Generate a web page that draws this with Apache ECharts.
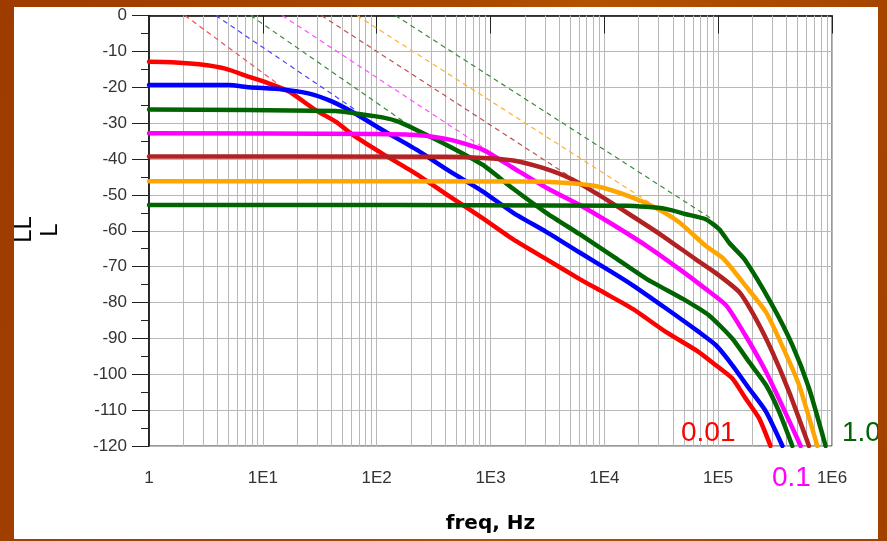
<!DOCTYPE html>
<html>
<head>
<meta charset="utf-8">
<script src="https://cdn.jsdelivr.net/npm/echarts@6/dist/echarts.min.js"></script>
<style>
  html, body { margin: 0; padding: 0; width: 887px; height: 541px; overflow: hidden;
    background: linear-gradient(100deg, #9e3c00 0%, #a94600 45%, #b35200 60%, #a24000 100%); }
  #chart { position: absolute; left: 14px; top: 7px; width: 864px; height: 532px; background: #ffffff; }
</style>
</head>
<body>
<div id="chart"></div>
<script>
// ---- tick labels ----
const xTickLabels = ['1', '1E1', '1E2', '1E3', '1E4', '1E5', '1E6'];

// ---- solid curves: frequency (Hz) and level (dB) ----
const redFreq = [1, 1.585, 2.754, 4.677, 7.586, 11.22, 16.98, 28.84, 43.65, 64.57, 112.2, 223.9, 436.5, 851.1, 1585, 3090, 6026, 10000, 17780, 34670, 67610, 95500, 133400, 173800, 229100, 288400];
const redDb   = [-12.9, -13.0, -13.6, -14.8, -17.1, -18.9, -21.2, -26.3, -29.6, -33.7, -38.5, -44.2, -50.4, -56.5, -62.4, -67.9, -73.4, -77.3, -81.8, -88.2, -93.8, -97.5, -101.2, -106.7, -112.3, -120];

const blueFreq = [1, 5.01, 7.586, 14.79, 25.12, 40.74, 64.57, 112.2, 223.9, 436.5, 851.1, 1585, 3090, 6026, 11750, 17780, 34670, 67610, 95500, 133400, 186200, 263000, 367300];
const blueDb   = [-19.4, -19.4, -20.0, -20.6, -21.7, -24.0, -27.3, -31.9, -37.4, -43.4, -49.0, -55.0, -60.3, -66.0, -71.6, -75.2, -81.6, -88.2, -91.9, -97.5, -103.9, -110.4, -120];

const green1Freq = [1, 43.65, 64.57, 112.2, 154.9, 223.9, 436.5, 851.1, 1585, 3090, 6026, 11750, 23440, 48980, 83180, 133400, 186200, 263000, 342800, 448700];
const green1Db   = [-26.2, -26.6, -27.3, -28.4, -29.6, -31.9, -36.5, -41.6, -48.3, -55.0, -60.9, -67.0, -73.4, -79.0, -83.6, -90.1, -96.5, -103.0, -110.4, -120];

const magentaFreq = [1, 100, 223.9, 436.5, 851.1, 1585, 3090, 6310, 11750, 23440, 45710, 77620, 117500, 173800, 263000, 363100, 530900];
const magentaDb   = [-32.8, -33.0, -33.3, -34.6, -37.4, -42.5, -48.0, -53.1, -58.2, -64.2, -70.7, -76.2, -80.8, -89.2, -99.3, -108.6, -120];

const brownFreq = [1, 398.1, 851.1, 1585, 2884, 5248, 8511, 16600, 32360, 63100, 95500, 153100, 213800, 299200, 419800, 628100];
const brownDb   = [-39.3, -39.4, -39.7, -40.4, -42.5, -45.7, -49.6, -55.4, -61.4, -67.9, -71.8, -77.1, -84.5, -93.8, -104.9, -120];

const orangeFreq = [1, 1995, 4365, 8511, 16600, 28180, 45710, 77620, 112200, 173800, 263000, 363100, 512900, 743000];
const orangeDb   = [-46.2, -46.3, -46.6, -47.6, -50.4, -53.6, -57.7, -64.2, -67.9, -75.3, -82.7, -91.9, -103.0, -120];

const green2Freq = [1, 15850, 34670, 52480, 77620, 102300, 125900, 169800, 299200, 448700, 628100, 879000];
const green2Db   = [-52.8, -53.0, -53.9, -55.4, -56.8, -59.6, -63.5, -67.9, -80.8, -91.9, -103.9, -120];

// ---- dashed asymptotes: start (at 0 dB) and end point ----
const dashStartFreq = [2.07, 3.85, 7.8, 14.8, 32.7, 67.1, 146];
const dashStartDb   = [0, 0, 0, 0, 0, 0, 0];
const dashEndFreq   = [13.3, 65, 223, 977, 4930, 26550, 85100];
const dashEndDb     = [-18.9, -26.3, -32.0, -37.9, -44.8, -52.7, -56.4];

const seriesNames = ['0.01', '0.022', '0.046', '0.1', '0.22', '0.46', '1.0'];
const colors = ['#ff0000', '#0000ff', '#006400', '#ff00ff', '#b22222', '#ffa500', '#006400'];
const dashColors = ['#f05050', '#4444ff', '#3c8a3c', '#ff50ff', '#c05050', '#ffb030', '#3c8a3c'];

const curveFreqs = [redFreq, blueFreq, green1Freq, magentaFreq, brownFreq, orangeFreq, green2Freq];
const curveDbs = [redDb, blueDb, green1Db, magentaDb, brownDb, orangeDb, green2Db];

// minor vertical grid positions (2..9 per decade)
const minorGrid = [];
for (let n = 0; n < 6; n++) for (let k = 2; k <= 9; k++) minorGrid.push(k * Math.pow(10, n));

const series = [];
// dashed lines
dashStartFreq.forEach((f0, i) => {
  const s = {
    name: seriesNames[i] + ' asym',
    type: 'line',
    data: [[f0, dashStartDb[i]], [dashEndFreq[i], dashEndDb[i]]],
    symbol: 'none',
    silent: true,
    z: 3,
    lineStyle: { color: dashColors[i], width: 1.2, type: [5, 4] }
  };
  if (i === 0) {
    s.markLine = {
      silent: true, symbol: ['none', 'none'], z: 1, animation: false,
      label: { show: false },
      lineStyle: { color: '#b8b8b8', type: 'solid', width: 1 },
      data: minorGrid.map(v => ({ xAxis: v }))
    };
  }
  series.push(s);
});
// solid curves
curveFreqs.forEach((fr, i) => {
  series.push({
    name: seriesNames[i],
    type: 'line',
    data: fr.map((f, j) => [f, curveDbs[i][j]]),
    symbol: 'none',
    silent: true,
    z: 4,
    smooth: 0.2,
    lineStyle: { color: colors[i], width: 4.5, join: 'round', cap: 'round' }
  });
});

const labelFont = 'Liberation Sans, Arial, sans-serif';
const chart = echarts.init(document.getElementById('chart'), null, { renderer: 'canvas' });
chart.setOption({
  animation: false,
  backgroundColor: '#ffffff',
  grid: { left: 135, top: 8, right: 46, bottom: 91, show: true, borderColor: '#333', borderWidth: 1, backgroundColor: 'transparent' },
  xAxis: {
    type: 'log', logBase: 10, min: 1, max: 1000000, interval: 1,
    name: 'freq, Hz', nameLocation: 'middle', nameGap: 68,
    nameTextStyle: { fontFamily: 'DejaVu Sans', fontWeight: 'bold', fontSize: 20, color: '#000' },
    axisLine: { show: true, lineStyle: { color: '#000', width: 1.5 } },
    axisTick: { show: true, inside: false, length: 18, lineStyle: { color: '#222', width: 1 } },
    minorTick: { show: false },
    splitLine: { show: true, lineStyle: { color: '#b8b8b8', width: 1 } },
    axisLabel: {
      margin: 24, color: '#333', fontSize: 17, fontFamily: labelFont,
      formatter: v => xTickLabels[Math.round(Math.log10(v))] || ''
    }
  },
  yAxis: {
    type: 'value', min: -120, max: 0, interval: 10,
    axisLine: { show: true, lineStyle: { color: '#000', width: 1.5 } },
    axisTick: { show: true, inside: false, length: 17, lineStyle: { color: '#222', width: 1 } },
    minorTick: { show: true, splitNumber: 2, length: 8, lineStyle: { color: '#222', width: 1 } },
    splitLine: { show: true, lineStyle: { color: '#b8b8b8', width: 1 } },
    axisLabel: { margin: 22, color: '#333', fontSize: 17, fontFamily: labelFont }
  },
  graphic: [
    { type: 'text', x: 10, y: 222.5, rotation: Math.PI / 2, silent: true,
      style: { text: 'LL', font: '24px Liberation Sans', fill: '#000', textAlign: 'center', textVerticalAlign: 'middle' } },
    { type: 'text', x: 36, y: 223, rotation: Math.PI / 2, silent: true,
      style: { text: 'L', font: '24px Liberation Sans', fill: '#000', textAlign: 'center', textVerticalAlign: 'middle' } },
    { type: 'text', x: 667, y: 426, silent: true, z: 10,
      style: { text: '0.01', font: '28px Liberation Sans', fill: '#ff0000', textAlign: 'left', textVerticalAlign: 'middle' } },
    { type: 'text', x: 758, y: 471, silent: true, z: 10,
      style: { text: '0.1', font: '28px Liberation Sans', fill: '#ff00ff', textAlign: 'left', textVerticalAlign: 'middle' } },
    { type: 'text', x: 828, y: 426, silent: true, z: 10,
      style: { text: '1.0', font: '28px Liberation Sans', fill: '#006400', textAlign: 'left', textVerticalAlign: 'middle' } }
  ],
  series: series
});
</script>
</body>
</html>
